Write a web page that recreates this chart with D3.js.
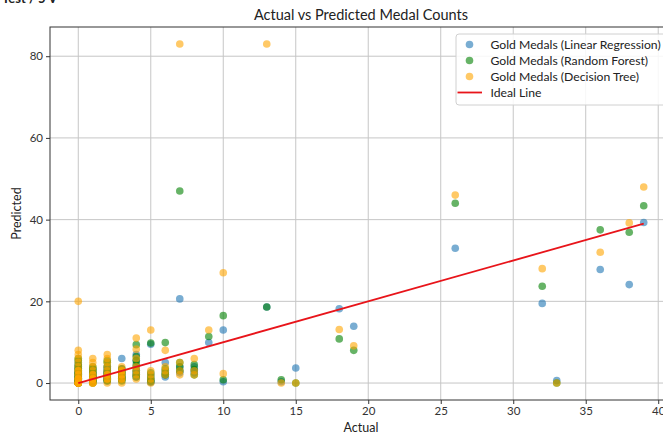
<!DOCTYPE html>
<html>
<head>
<meta charset="utf-8">
<script src="https://cdn.jsdelivr.net/npm/d3@7"></script>
<style>
  html, body { margin: 0; padding: 0; background: #fff; }
  svg { display: block; font-family: "Lato", "DejaVu Sans", sans-serif; }
</style>
</head>
<body>
<svg id="chart" width="663" height="434"></svg>
<script>
// Actual gold medal counts per country (test set)
const actual = [
  0,0,0,0,0,0,0,0,0,0,0,0,0,0,0,0,0,0,0,0,
  1,1,1,1,1,1,1,1,1,1,1,1,
  2,2,2,2,2,2,2,2,2,2,
  3,3,3,3,3,3,3,3,
  4,4,4,4,4,4,4,
  5,5,5,5,5,
  6,6,6,6,
  7,7,7,7,
  8,8,8,
  9,
  10,10,
  13,14,15,18,19,26,32,33,36,38,39
];

// Predictions, one value per country, same order as `actual`
const predLinear = [
  0.2,0.5,0.8,1.0,1.3,1.6,2.0,2.4,2.8,3.2,0.1,0.3,0.6,1.1,1.8,2.5,3.6,4.2,5.0,0.4,
  0.5,1.0,1.5,2.0,2.5,3.0,0.8,1.2,1.8,2.2,3.5,0.3,
  0.8,1.5,2.0,2.5,3.0,3.5,1.2,2.2,4.0,0.5,
  6.0,1.5,2.0,2.5,3.0,1.0,3.5,0.8,
  7.0,5.5,3.0,2.0,1.5,4.0,2.5,
  9.5,2.0,1.0,0.5,0.2,
  5.0,3.0,2.0,1.5,
  20.6,4.0,3.0,2.5,
  4.0,3.0,2.5,
  9.9,
  13.0,0.3,
  18.6,0.3,3.7,18.2,13.9,33.0,19.5,0.6,27.8,24.1,39.3
];

const predForest = [
  0,0,0.2,0.5,1.0,1.5,2.0,2.5,3.0,3.5,4.0,4.5,5.5,6.0,0.1,0.3,0.8,1.2,2.2,0,
  0,0.5,1,1.5,2,2.5,3,3.5,4,0.2,1.2,0.8,
  0.5,1,1.5,2,3,4,5,5.5,2.5,0.8,
  0.5,1.2,2.0,1.5,3.0,2.5,1.0,3.5,
  9.4,6.5,4.5,3.0,2.0,5.5,1.5,
  9.8,2.5,1.5,0.8,0.3,
  9.9,3.5,2.5,2.0,
  47.0,5.0,4.0,3.0,
  4.5,3.3,2.0,
  11.4,
  16.5,0.8,
  18.6,0.8,0,10.8,8.0,44.0,23.7,0,37.5,36.9,43.4
];

const predTree = [
  0,0,0,0,0,1,1,1,2,2,3,3,4,5,6,7,8,20,0,1,
  0,0,1,1,1,2,2,3,4,5,6,0,
  0,1,1,2,2,3,4,5,6,7,
  0,1,2,3,4,1,2,3,
  11,8.3,6,4,3,2,1,
  13,3,2,1,0,
  8,4,3,2,
  83,5,3,2,
  6,3,2,
  13,
  27,2.3,
  83,0,0,13.1,9.1,46,28,0,32,39.2,48
];

const seriesNames = [
  "Gold Medals (Linear Regression)",
  "Gold Medals (Random Forest)",
  "Gold Medals (Decision Tree)"
];
const seriesColors = ["#1f77b4", "#008000", "#ffa500"];
const xTicks = [0, 5, 10, 15, 20, 25, 30, 35, 40];
const yTicks = [0, 20, 40, 60, 80];

const svg = d3.select("#chart");
const plot = { left: 50, top: 27, right: 672, bottom: 400 };

const allPred = predLinear.concat(predForest, predTree);
const [xMin, xMax] = d3.extent(actual);
const [yMin, yMax] = d3.extent(allPred);
const xPad = (xMax - xMin) * 0.05, yPad = (yMax - yMin) * 0.05;

const x = d3.scaleLinear().domain([xMin - xPad, xMax + xPad]).range([plot.left, plot.right]);
const y = d3.scaleLinear().domain([yMin - yPad, yMax + yPad]).range([plot.bottom, plot.top]);

// grid
const grid = svg.append("g").attr("stroke", "#c6c6c6").attr("stroke-width", 1);
grid.selectAll("line.v").data(xTicks).join("line")
  .attr("x1", d => x(d)).attr("x2", d => x(d))
  .attr("y1", plot.top).attr("y2", plot.bottom);
grid.selectAll("line.h").data(yTicks).join("line")
  .attr("x1", plot.left).attr("x2", plot.right)
  .attr("y1", d => y(d)).attr("y2", d => y(d));

// scatter points, one layer per model
const series = [predLinear, predForest, predTree];
series.forEach((vals, i) => {
  svg.append("g").selectAll("circle")
    .data(actual.map((a, k) => [a, vals[k]]))
    .join("circle")
    .attr("cx", d => x(d[0]))
    .attr("cy", d => y(d[1]))
    .attr("r", 3.8)
    .attr("fill", seriesColors[i])
    .attr("fill-opacity", 0.6);
});

// ideal line y = x
svg.append("line")
  .attr("x1", x(xMin)).attr("y1", y(xMin))
  .attr("x2", x(xMax)).attr("y2", y(xMax))
  .attr("stroke", "#e8141a").attr("stroke-width", 1.8);

// axes
const xAxis = svg.append("g").attr("transform", `translate(0,${plot.bottom})`)
  .call(d3.axisBottom(x).tickValues(xTicks).tickSize(4).tickPadding(3));
const yAxis = svg.append("g").attr("transform", `translate(${plot.left},0)`)
  .call(d3.axisLeft(y).tickValues(yTicks).tickSize(4).tickPadding(3));
[xAxis, yAxis].forEach(g => {
  g.select(".domain").remove();
  g.selectAll(".tick line").attr("stroke", "#333");
  g.selectAll(".tick text").attr("fill", "#333").attr("font-size", 11.5)
    .attr("font-family", "Lato, sans-serif");
});

// frame
svg.append("rect")
  .attr("x", plot.left).attr("y", plot.top)
  .attr("width", plot.right - plot.left).attr("height", plot.bottom - plot.top)
  .attr("fill", "none").attr("stroke", "#333").attr("stroke-width", 1);

// titles
svg.append("text")
  .attr("x", (plot.left + plot.right) / 2).attr("y", 20)
  .attr("text-anchor", "middle").attr("font-size", 14.5).attr("fill", "#222")
  .text("Actual vs Predicted Medal Counts");
svg.append("text")
  .attr("x", (plot.left + plot.right) / 2).attr("y", 432)
  .attr("text-anchor", "middle").attr("font-size", 12.5).attr("fill", "#222")
  .text("Actual");
svg.append("text")
  .attr("transform", `translate(21,${(plot.top + plot.bottom) / 2}) rotate(-90)`)
  .attr("text-anchor", "middle").attr("font-size", 12.5).attr("fill", "#222")
  .text("Predicted");

// legend
const legend = svg.append("g").attr("transform", "translate(456,34)");
legend.append("rect")
  .attr("width", 230).attr("height", 71).attr("rx", 3)
  .attr("fill", "#fff").attr("fill-opacity", 0.85)
  .attr("stroke", "#d0d0d0");
const legendRows = seriesNames.concat(["Ideal Line"]);
legendRows.forEach((name, i) => {
  const ry = 10.5 + i * 16;
  if (i < 3) {
    legend.append("circle").attr("cx", 13.5).attr("cy", ry).attr("r", 3.8)
      .attr("fill", seriesColors[i]).attr("fill-opacity", 0.6);
  } else {
    legend.append("line").attr("x1", 1.5).attr("x2", 26).attr("y1", ry).attr("y2", ry)
      .attr("stroke", "#e8141a").attr("stroke-width", 1.8);
  }
  legend.append("text").attr("x", 34.5).attr("y", ry + 4.2)
    .attr("font-size", 12.2).attr("fill", "#222").text(name);
});

// clipped caption from the preceding cell
svg.append("text").attr("x", 2).attr("y", 3)
  .attr("font-size", 13).attr("font-weight", "bold").attr("fill", "#222")
  .text("Test / 5 V");
</script>
</body>
</html>
